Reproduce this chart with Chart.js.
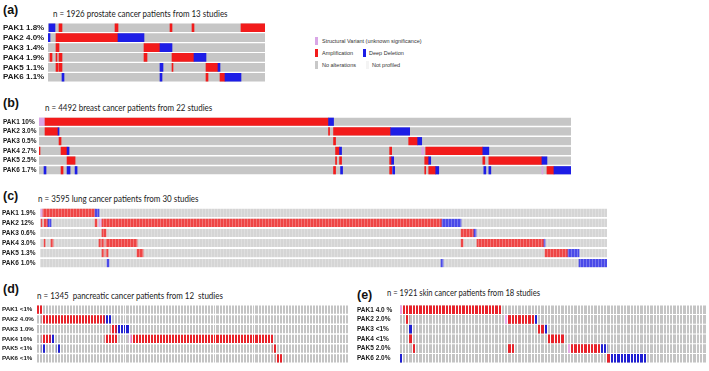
<!DOCTYPE html>
<html>
<head>
<meta charset="utf-8">
<script src="https://cdn.jsdelivr.net/npm/chart.js@4.4.1/dist/chart.umd.min.js"></script>
<style>
    body { margin: 0; background: #fff; }
    #fig { position: relative; width: 709px; height: 371px; overflow: hidden; }
    #fig canvas { position: absolute; }
    .tag { position: absolute; font: bold 12.5px 'Liberation Sans', Arial, sans-serif; line-height: 12px; color: #111; }
    .sub { position: absolute; font-family: Lato, sans-serif; font-size: 9.4px; color: #222; white-space: pre;
        line-height: 1; transform: scaleX(0.85); transform-origin: 0 0; }
    .leg { position: absolute; font: 5.5px 'Liberation Sans', Arial, sans-serif; color: #333; white-space: pre; line-height: 1; }
    .sw { position: absolute; width: 3px; height: 8px; }
</style>
</head>
<body>
<div id="fig">
    <div class="tag" style="left:3px;top:4px">(a)</div>
    <div class="sub" style="left:53px;top:9px">n = 1926 prostate cancer patients from 13 studies</div>
    <div class="tag" style="left:3px;top:97px">(b)</div>
    <div class="sub" style="left:45px;top:103px">n = 4492 breast cancer patients from 22 studies</div>
    <div class="tag" style="left:3px;top:190px">(c)</div>
    <div class="sub" style="left:38px;top:194px">n = 3595 lung cancer patients from 30 studies</div>
    <div class="tag" style="left:3px;top:283px">(d)</div>
    <div class="sub" style="left:37px;top:291px">n = 1345  pancreatic cancer patients from 12  studies</div>
    <div class="tag" style="left:357px;top:289px">(e)</div>
    <div class="sub" style="left:387px;top:288px;font-size:9px">n = 1921 skin cancer patients from 18 studies</div>

    <div class="sw" style="left:315px;top:37px;background:#d9a6e6"></div>
    <div class="leg" style="left:322px;top:39px">Structural Variant (unknown significance)</div>
    <div class="sw" style="left:315px;top:49px;background:#f21b1b"></div>
    <div class="leg" style="left:322px;top:51px">Amplification</div>
    <div class="sw" style="left:363px;top:49px;background:#1d1de6"></div>
    <div class="leg" style="left:369px;top:51px">Deep Deletion</div>
    <div class="sw" style="left:315px;top:61px;background:#c8c8c8"></div>
    <div class="leg" style="left:322px;top:63px">No alterations</div>
    <div class="sw" style="left:366px;top:61px;background:#f4f4f4"></div>
    <div class="leg" style="left:372px;top:63px">Not profiled</div>
</div>
<script>
(function () {
    'use strict';

    var GENES = ['PAK1', 'PAK2', 'PAK3', 'PAK4', 'PAK5', 'PAK6'];

    // alterations per gene: [type, first column, end column]
    // A = amplification, D = deep deletion, S = structural variant

    var prostatePct = ['1.8%', '4.0%', '1.4%', '1.9%', '1.1%', '1.1%'];
    var prostateColumns = 217;
    var prostateAlterations = [
        [['D', 1, 7], ['A', 11, 14], ['A', 67, 70], ['A', 122, 124], ['A', 144, 146], ['A', 193, 217]],
        [['D', 0, 2], ['A', 8, 70], ['D', 70, 96]],
        [['A', 8, 11], ['A', 96, 112], ['D', 112, 124]],
        [['A', 2, 4], ['A', 8, 9], ['A', 11, 14], ['A', 96, 99], ['A', 124, 146], ['D', 146, 158]],
        [['A', 8, 10], ['A', 11, 14], ['D', 112, 115], ['A', 124, 125], ['A', 158, 170], ['D', 170, 172]],
        [['D', 14, 16], ['D', 112, 114], ['A', 158, 160], ['A', 172, 177], ['D', 177, 193]]
    ];

    var breastPct = ['10%', '3.0%', '0.5%', '2.7%', '2.5%', '1.7%'];
    var breastColumns = 531;
    var breastAlterations = [
        [['S', 0, 6], ['A', 6, 289], ['D', 289, 294]],
        [['A', 6, 19], ['D', 19, 20], ['A', 289, 290], ['A', 294, 351], ['D', 351, 370]],
        [['A', 20, 22], ['A', 294, 296], ['A', 369, 378], ['D', 378, 382]],
        [['A', 0, 1], ['A', 22, 28], ['D', 28, 30], ['A', 296, 300], ['D', 300, 302], ['A', 350, 352],
            ['S', 382, 384], ['A', 386, 443], ['D', 443, 449]],
        [['A', 28, 36], ['A', 296, 297], ['A', 300, 302], ['A', 350, 352], ['D', 352, 354], ['A', 385, 389],
            ['D', 389, 391], ['A', 443, 445], ['A', 449, 502], ['D', 502, 507]],
        [['D', 5, 7], ['A', 22, 24], ['D', 28, 31], ['D', 36, 38], ['A', 294, 296], ['D', 301, 303],
            ['A', 350, 352], ['D', 353, 355], ['A', 385, 386], ['A', 389, 396], ['D', 396, 399],
            ['D', 444, 446], ['D', 449, 451], ['S', 502, 503], ['A', 507, 514], ['D', 514, 531]]
    ];

    var lungPct = ['1.9%', '12%', '0.6%', '3.0%', '1.3%', '1.0%'];
    var lungColumns = 567;
    var lungAlterations = [
        [['S', 0, 3], ['A', 3, 55], ['D', 55, 59]],
        [['A', 1, 2], ['A', 4, 8], ['D', 8, 11], ['A', 55, 57], ['S', 59, 62], ['A', 62, 402], ['D', 402, 421]],
        [['A', 62, 66], ['A', 421, 434], ['D', 434, 436]],
        [['A', 4, 5], ['A', 11, 13], ['A', 59, 61], ['A', 62, 64], ['A', 66, 97], ['A', 421, 423],
            ['A', 437, 504], ['D', 504, 505]],
        [['A', 62, 64], ['A', 66, 68], ['A', 97, 103], ['A', 505, 528], ['D', 528, 539]],
        [['D', 67, 69], ['D', 401, 403], ['D', 539, 567]]
    ];

    var pancreasPct = ['<1%', '4.0%', '1.0%', '10%', '<1%', '<1%'];
    var pancreasColumns = 104;
    var pancreasAlterations = [
        [['A', 0, 2]],
        [['A', 2, 23], ['D', 23, 25]],
        [['A', 25, 27], ['D', 27, 31]],
        [['A', 2, 5], ['D', 5, 6], ['A', 23, 27], ['S', 31, 32], ['A', 32, 79]],
        [['D', 2, 3], ['D', 7, 8], ['A', 79, 80]],
        [['A', 80, 82]]
    ];

    var skinPct = ['4.0 %', '2.0%', '<1%', '<1%', '2.0%', '2.0%'];
    var skinColumns = 93;
    var skinAlterations = [
        [['S', 0, 1], ['A', 1, 31]],
        [['A', 2, 3], ['S', 32, 33], ['A', 33, 41], ['D', 41, 42]],
        [['D', 3, 4], ['A', 42, 44], ['D', 44, 45]],
        [['A', 3, 4], ['A', 45, 50]],
        [['A', 4, 5], ['A', 33, 35], ['S', 51, 52], ['A', 52, 61], ['D', 61, 63]],
        [['D', 0, 1], ['A', 63, 64], ['D', 64, 75]]
    ];

    var STRONG = { A: '#f21b1b', D: '#1d1de6', S: '#d9a6e6', base: '#c6c6c6' };
    var SOFT = { A: '#ee4646', D: '#4a4ae8', S: '#dcaee6', base: '#d5d5d5' };
    var CELLS = { A: '#e8222a', D: '#1f1fd2', S: '#e6a8e6', base: '#c4c4c4' };

    function makePanel(p) {
        var fig = document.getElementById('fig');
        var canvas = document.createElement('canvas');
        canvas.width = p.width;
        canvas.height = p.height;
        canvas.style.left = p.left + 'px';
        canvas.style.top = p.top + 'px';
        fig.appendChild(canvas);

        var labels = GENES.map(function (g, i) {
            return g + ' ' + p.pct[i];
        });

        var basePoints = labels.map(function (l) {
            return { y: l, x: [0, p.columns] };
        });
        var altPoints = [];
        var altColors = [];
        p.alterations.forEach(function (row, i) {
            row.forEach(function (seg) {
                altPoints.push({ y: labels[i], x: [seg[1], seg[2]] });
                altColors.push(p.colors[seg[0]]);
            });
        });

        return new Chart(canvas, {
            type: 'bar',
            data: {
                labels: labels,
                datasets: [
                    {
                        data: altPoints,
                        backgroundColor: altColors,
                        borderWidth: 0,
                        barThickness: p.thickness,
                        grouped: false,
                        order: 1
                    },
                    {
                        data: basePoints,
                        backgroundColor: p.colors.base,
                        borderWidth: 0,
                        barThickness: p.thickness,
                        grouped: false,
                        order: 2
                    }
                ]
            },
            options: {
                indexAxis: 'y',
                responsive: false,
                animation: false,
                events: [],
                layout: { padding: { left: p.padLeft, right: 0, top: 0, bottom: 0 } },
                plugins: {
                    legend: { display: false },
                    tooltip: { enabled: false }
                },
                scales: {
                    x: {
                        type: 'linear',
                        min: 0,
                        max: p.columns,
                        display: !!p.cellLine,
                        ticks: { display: false, stepSize: p.cellStep || 1 },
                        grid: { color: p.cellLine || 'transparent', lineWidth: 1, drawTicks: false, z: 1 },
                        border: { display: false }
                    },
                    y: {
                        ticks: {
                            autoSkip: false,
                            crossAlign: 'far',
                            color: '#1a1a1a',
                            padding: 0,
                            font: { family: "'Liberation Sans', Arial, sans-serif", weight: 'bold', size: p.fontSize }
                        },
                        grid: { display: false, drawTicks: false },
                        border: { display: false },
                        afterFit: function (scale) {
                            scale.width = p.axisWidth;
                        }
                    }
                }
            }
        });
    }

    makePanel({
        left: 0, top: 18, width: 265, height: 69, padLeft: 3, axisWidth: 45,
        pct: prostatePct, columns: prostateColumns, alterations: prostateAlterations,
        colors: STRONG, thickness: 8, fontSize: 8
    });
    makePanel({
        left: 0, top: 113, width: 571, height: 66, padLeft: 3, axisWidth: 36,
        pct: breastPct, columns: breastColumns, alterations: breastAlterations,
        colors: STRONG, thickness: 7.5, fontSize: 6.5
    });
    makePanel({
        left: 0, top: 204, width: 607, height: 68, padLeft: 2, axisWidth: 38,
        pct: lungPct, columns: lungColumns, alterations: lungAlterations,
        colors: SOFT, thickness: 7.5, fontSize: 6.5,
        cellLine: 'rgba(255,255,255,0.25)', cellStep: 3
    });
    makePanel({
        left: 0, top: 301, width: 348, height: 66, padLeft: 2, axisWidth: 34,
        pct: pancreasPct, columns: pancreasColumns, alterations: pancreasAlterations,
        colors: CELLS, thickness: 7.5, fontSize: 6.2,
        cellLine: '#ffffff'
    });
    makePanel({
        left: 355, top: 301, width: 351, height: 66, padLeft: 2, axisWidth: 42,
        pct: skinPct, columns: skinColumns, alterations: skinAlterations,
        colors: CELLS, thickness: 8, fontSize: 6.5,
        cellLine: '#ffffff'
    });
})();
</script>
</body>
</html>
